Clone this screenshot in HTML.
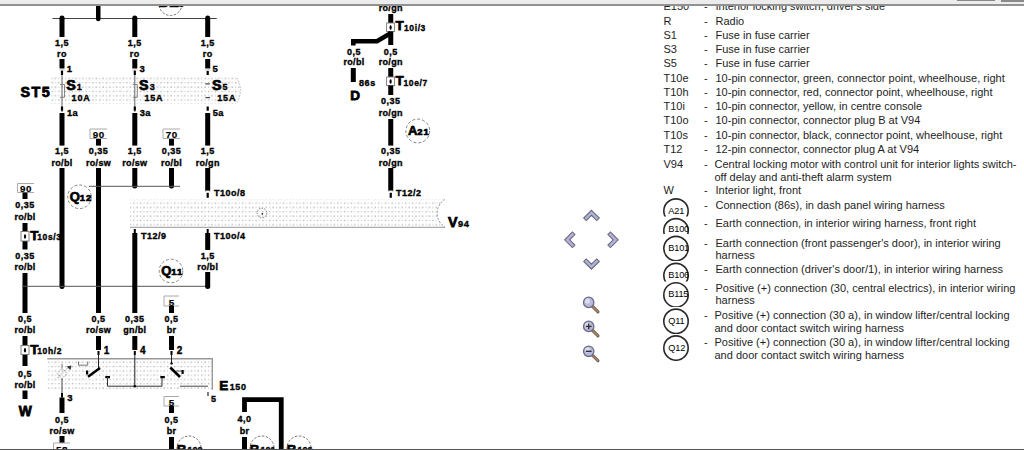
<!DOCTYPE html>
<html><head><meta charset="utf-8"><title>wiring</title>
<style>
html,body{margin:0;padding:0;background:#fff;width:1024px;height:450px;overflow:hidden;}
.lt{position:absolute;font-family:"Liberation Sans",sans-serif;font-size:11px;line-height:13px;color:#1e1e1e;white-space:pre;}
svg{position:absolute;left:0;top:0;}
svg text{font-family:"Liberation Sans",sans-serif;fill:#000;stroke:#000;stroke-width:0.35px;}
svg text.nc{stroke:none;}
#topbar{position:absolute;left:0;top:0;width:1024px;height:4px;background:#ececec;}
#topline{position:absolute;left:0;top:4px;width:1024px;height:1.6px;background:#929292;}
#botline{position:absolute;left:0;top:448.5px;width:1024px;height:1.5px;background:#555;}
</style></head><body>
<svg width="1024" height="450" viewBox="0 0 1024 450">
<defs>
<pattern id="dots" x="0" y="0" width="6.8" height="8.6" patternUnits="userSpaceOnUse">
<rect x="0.5" y="0.5" width="1.3" height="1.2" fill="#a0a0a0"/>
<rect x="3.9" y="0.5" width="1.2" height="1.2" fill="#c4c4c4"/>
<rect x="0.5" y="4.8" width="1.2" height="1.2" fill="#c8c8c8"/>
<rect x="3.9" y="4.8" width="1.3" height="1.2" fill="#a8a8a8"/>
<rect x="5.5" y="2.6" width="0.9" height="0.9" fill="#dddddd"/>
</pattern>
</defs>
<line x1="52.5" y1="18.5" x2="216.75" y2="18.5" stroke="#444" stroke-width="1"/>
<rect x="96.00" y="5.00" width="4.5" height="14.00" fill="#000"/>
<circle cx="98.25" cy="19.00" r="2.25" fill="#000"/>
<rect x="59.50" y="18.00" width="5" height="19.00" fill="#000"/>
<circle cx="62.00" cy="18.00" r="2.50" fill="#000"/>
<text x="62" y="45.5" font-size="9" font-weight="bold" text-anchor="middle" letter-spacing="0.5">1,5</text>
<text x="62" y="57" font-size="9" font-weight="bold" text-anchor="middle" letter-spacing="0.5">ro</text>
<rect x="59.50" y="59.00" width="5" height="9.50" fill="#000"/>
<rect x="132.30" y="18.00" width="5" height="19.00" fill="#000"/>
<circle cx="134.80" cy="18.00" r="2.50" fill="#000"/>
<text x="134.8" y="45.5" font-size="9" font-weight="bold" text-anchor="middle" letter-spacing="0.5">1,5</text>
<text x="134.8" y="57" font-size="9" font-weight="bold" text-anchor="middle" letter-spacing="0.5">ro</text>
<rect x="132.30" y="59.00" width="5" height="9.50" fill="#000"/>
<rect x="205.20" y="18.00" width="5" height="19.00" fill="#000"/>
<circle cx="207.70" cy="18.00" r="2.50" fill="#000"/>
<text x="207.7" y="45.5" font-size="9" font-weight="bold" text-anchor="middle" letter-spacing="0.5">1,5</text>
<text x="207.7" y="57" font-size="9" font-weight="bold" text-anchor="middle" letter-spacing="0.5">ro</text>
<rect x="205.20" y="59.00" width="5" height="9.50" fill="#000"/>
<text x="66.8" y="72.3" font-size="9.5" font-weight="bold" text-anchor="start" letter-spacing="0">1</text>
<text x="139.60000000000002" y="72.3" font-size="9.5" font-weight="bold" text-anchor="start" letter-spacing="0">3</text>
<text x="212.5" y="72.3" font-size="9.5" font-weight="bold" text-anchor="start" letter-spacing="0">5</text>
<path d="M50 77 H237 Q243 90 237 104 H50 Z" fill="url(#dots)"/>
<path d="M237 78 Q244 90 237 103" fill="none" stroke="#999" stroke-width="0.7" stroke-dasharray="1.5 1.5"/>
<line x1="62" y1="70" x2="62" y2="112" stroke="#666" stroke-width="1"/>
<rect x="60.9" y="70.8" width="2.2" height="4.2" fill="#000"/>
<path d="M59.2 70.5 Q62 67.8 64.8 70.5" fill="none" stroke="#bbb" stroke-width="0.7"/>
<rect x="60.9" y="106.5" width="2.2" height="4.2" fill="#000"/>
<line x1="134.8" y1="70" x2="134.8" y2="112" stroke="#666" stroke-width="1"/>
<rect x="133.70000000000002" y="70.8" width="2.2" height="4.2" fill="#000"/>
<path d="M132.0 70.5 Q134.8 67.8 137.60000000000002 70.5" fill="none" stroke="#bbb" stroke-width="0.7"/>
<rect x="133.70000000000002" y="106.5" width="2.2" height="4.2" fill="#000"/>
<rect x="206.6" y="70.8" width="2.2" height="4.2" fill="#000"/>
<path d="M204.89999999999998 70.5 Q207.7 67.8 210.5 70.5" fill="none" stroke="#bbb" stroke-width="0.7"/>
<rect x="206.6" y="106.5" width="2.2" height="4.2" fill="#000"/>
<path d="M60 84.5 H64.5 V97.3 H60" fill="none" stroke="#777" stroke-width="0.9"/>
<path d="M132.8 84.5 H137.3 V97.3 H132.8" fill="none" stroke="#777" stroke-width="0.9"/>
<rect x="205.3" y="83.3" width="4.5" height="1.2" fill="#444"/><rect x="205.5" y="97" width="4.5" height="1.2" fill="#444"/>
<text x="20.6" y="97.2" font-size="14.3" font-weight="bold" letter-spacing="1.4" style="stroke-width:0.8px">ST5</text>
<text x="66.2" y="90.4" font-size="14.3" font-weight="bold" letter-spacing="0.3" style="stroke-width:0.75px">S<tspan font-size="9" dx="0.8" dy="0" letter-spacing="0.6" style="stroke-width:0.35px">1</tspan></text>
<text x="71.6" y="100.9" font-size="9" font-weight="bold" text-anchor="start" letter-spacing="0.8">10A</text>
<text x="139.0" y="90.4" font-size="14.3" font-weight="bold" letter-spacing="0.3" style="stroke-width:0.75px">S<tspan font-size="9" dx="0.8" dy="0" letter-spacing="0.6" style="stroke-width:0.35px">3</tspan></text>
<text x="144.4" y="100.9" font-size="9" font-weight="bold" text-anchor="start" letter-spacing="0.8">15A</text>
<text x="211.89999999999998" y="90.4" font-size="14.3" font-weight="bold" letter-spacing="0.3" style="stroke-width:0.75px">S<tspan font-size="9" dx="0.8" dy="0" letter-spacing="0.6" style="stroke-width:0.35px">5</tspan></text>
<text x="217.29999999999998" y="100.9" font-size="9" font-weight="bold" text-anchor="start" letter-spacing="0.8">15A</text>
<circle cx="170.5" cy="4" r="11.5" fill="none" stroke="#555" stroke-width="0.8" stroke-dasharray="2.5 1.5"/>
<text x="158.5" y="7.3" font-size="13.5" font-weight="bold" style="stroke-width:0.7px">B<tspan font-size="9" dx="1" style="stroke-width:0.35px">115</tspan></text>
<text x="67" y="115.6" font-size="9.3" font-weight="bold" text-anchor="start" letter-spacing="0.4">1a</text>
<text x="139.8" y="115.6" font-size="9.3" font-weight="bold" text-anchor="start" letter-spacing="0.4">3a</text>
<text x="212.7" y="115.6" font-size="9.3" font-weight="bold" text-anchor="start" letter-spacing="0.4">5a</text>
<rect x="59.50" y="113.00" width="5" height="32.60" fill="#000"/>
<rect x="132.30" y="113.00" width="5" height="32.60" fill="#000"/>
<rect x="205.20" y="113.00" width="5" height="32.60" fill="#000"/>
<text x="62" y="154" font-size="9" font-weight="bold" text-anchor="middle" letter-spacing="0.5">1,5</text>
<text x="62" y="166" font-size="9" font-weight="bold" text-anchor="middle" letter-spacing="0.3">ro/bl</text>
<text x="134.8" y="154" font-size="9" font-weight="bold" text-anchor="middle" letter-spacing="0.5">1,5</text>
<text x="134.8" y="166" font-size="9" font-weight="bold" text-anchor="middle" letter-spacing="0.3">ro/sw</text>
<text x="207.7" y="154" font-size="9" font-weight="bold" text-anchor="middle" letter-spacing="0.5">1,5</text>
<text x="207.7" y="166" font-size="9" font-weight="bold" text-anchor="middle" letter-spacing="0.3">ro/gn</text>
<path d="M107 129 H90 V138.5 H107" fill="#fff" stroke="#aaa" stroke-width="1"/>
<text x="98.8" y="138.1" font-size="9.8" font-weight="bold" text-anchor="middle" letter-spacing="0.6" style="stroke-width:0.2px">90</text>
<rect x="96.00" y="139.00" width="5" height="6.60" fill="#000"/>
<text x="98.5" y="154" font-size="9" font-weight="bold" text-anchor="middle" letter-spacing="0.5">0,35</text>
<text x="98.5" y="166" font-size="9" font-weight="bold" text-anchor="middle" letter-spacing="0.3">ro/sw</text>
<path d="M180 129 H163 V138.5 H180" fill="#fff" stroke="#aaa" stroke-width="1"/>
<text x="171.8" y="138.1" font-size="9.8" font-weight="bold" text-anchor="middle" letter-spacing="0.6" style="stroke-width:0.2px">70</text>
<rect x="169.00" y="139.00" width="5" height="6.60" fill="#000"/>
<text x="171.5" y="154" font-size="9" font-weight="bold" text-anchor="middle" letter-spacing="0.5">0,35</text>
<text x="171.5" y="166" font-size="9" font-weight="bold" text-anchor="middle" letter-spacing="0.3">ro/bl</text>
<rect x="59.50" y="168.00" width="5" height="118.50" fill="#000"/>
<circle cx="62.00" cy="286.50" r="2.50" fill="#000"/>
<rect x="96.00" y="168.00" width="5" height="145.00" fill="#000"/>
<rect x="132.30" y="168.00" width="5" height="18.00" fill="#000"/>
<circle cx="134.80" cy="186.00" r="2.50" fill="#000"/>
<rect x="169.00" y="168.00" width="5" height="18.00" fill="#000"/>
<circle cx="171.50" cy="186.00" r="2.50" fill="#000"/>
<line x1="89" y1="186.3" x2="180" y2="186.3" stroke="#555" stroke-width="1"/>
<rect x="205.20" y="168.00" width="5" height="22.80" fill="#000"/>
<path d="M205.2 191.3 Q207.7 189.5 210.2 191.3" fill="none" stroke="#999" stroke-width="0.7"/>
<rect x="206.6" y="192.8" width="2.2" height="5" fill="#000"/>
<text x="214" y="196" font-size="9" font-weight="bold" text-anchor="start" letter-spacing="0.5">T10o/8</text>
<path d="M34.0 183.5 H17.5 V192.5 H34.0" fill="#fff" stroke="#aaa" stroke-width="1"/>
<text x="26.05" y="192.1" font-size="9.8" font-weight="bold" text-anchor="middle" letter-spacing="0.6" style="stroke-width:0.2px">90</text>
<rect x="22.50" y="192.50" width="5" height="6.50" fill="#000"/>
<text x="25" y="208" font-size="9" font-weight="bold" text-anchor="middle" letter-spacing="0.5">0,35</text>
<text x="25" y="220" font-size="9" font-weight="bold" text-anchor="middle" letter-spacing="0.3">ro/bl</text>
<rect x="22.50" y="223.00" width="5" height="26.50" fill="#000"/>
<rect x="21" y="231.5" width="8" height="9.5" fill="#fff" stroke="#777" stroke-width="0.9"/>
<ellipse cx="25.0" cy="236.55" rx="1.1" ry="2.3" fill="#000"/>
<text x="30.2" y="239.7" font-size="13.5" font-weight="bold" letter-spacing="0.3" style="stroke-width:0.75px">T<tspan font-size="8.5" dx="-1.5" dy="0" letter-spacing="0.6" style="stroke-width:0.35px">10s/3</tspan></text>
<text x="25" y="259" font-size="9" font-weight="bold" text-anchor="middle" letter-spacing="0.5">0,35</text>
<text x="25" y="270" font-size="9" font-weight="bold" text-anchor="middle" letter-spacing="0.3">ro/bl</text>
<rect x="22.50" y="273.00" width="5" height="40.00" fill="#000"/>
<line x1="22" y1="286.3" x2="210" y2="286.3" stroke="#555" stroke-width="1"/>
<circle cx="79.5" cy="196.8" r="11.8" fill="none" stroke="#666" stroke-width="0.8" stroke-dasharray="3 2"/>
<text x="69.7" y="201.0" font-size="13" font-weight="bold" style="stroke-width:0.7px">Q<tspan font-size="9.5" dx="-0.1" letter-spacing="0.9">12</tspan></text>
<circle cx="171" cy="271" r="11.8" fill="none" stroke="#666" stroke-width="0.8" stroke-dasharray="3 2"/>
<text x="161.2" y="275.2" font-size="13" font-weight="bold" style="stroke-width:0.7px">Q<tspan font-size="9.5" dx="-0.1" letter-spacing="0.9">11</tspan></text>
<path d="M130 199.5 H445 A16 16 0 0 0 445 227 H130 Z" fill="url(#dots)"/>
<line x1="130" y1="227.3" x2="445" y2="227.3" stroke="#999" stroke-width="1"/>
<path d="M445 199.5 A16 16 0 0 0 445 227" fill="none" stroke="#777" stroke-width="0.8" stroke-dasharray="2 1.5"/>
<circle cx="262" cy="213" r="4.8" fill="none" stroke="#666" stroke-width="0.8" stroke-dasharray="1.5 1.2"/><circle cx="262.3" cy="213.8" r="0.9" fill="#222"/>
<text x="448" y="227" font-size="14.3" font-weight="bold" letter-spacing="0.3" style="stroke-width:0.75px">V<tspan font-size="9.3" dx="0.2" dy="0" letter-spacing="0.6" style="stroke-width:0.35px">94</tspan></text>
<rect x="133.8" y="229" width="2" height="4.5" fill="#000"/>
<rect x="132.30" y="233.00" width="5" height="80.00" fill="#000"/>
<text x="141" y="238.5" font-size="9" font-weight="bold" text-anchor="start" letter-spacing="0.5">T12/9</text>
<rect x="206.7" y="229" width="2" height="4.5" fill="#000"/>
<rect x="205.20" y="233.00" width="5" height="17.00" fill="#000"/>
<text x="214" y="238.5" font-size="9" font-weight="bold" text-anchor="start" letter-spacing="0.5">T10o/4</text>
<text x="207.7" y="258.5" font-size="9" font-weight="bold" text-anchor="middle" letter-spacing="0.5">1,5</text>
<text x="207.7" y="270" font-size="9" font-weight="bold" text-anchor="middle" letter-spacing="0.3">ro/bl</text>
<rect x="205.20" y="272.00" width="5" height="14.50" fill="#000"/>
<circle cx="207.70" cy="286.50" r="2.50" fill="#000"/>
<path d="M179 296 H164 V306 H179" fill="#fff" stroke="#aaa" stroke-width="1"/>
<text x="171.8" y="305.6" font-size="9.8" font-weight="bold" text-anchor="middle" letter-spacing="0.6" style="stroke-width:0.2px">5</text>
<rect x="169.00" y="306.00" width="5" height="7.00" fill="#000"/>
<text x="25" y="322" font-size="9" font-weight="bold" text-anchor="middle" letter-spacing="0.5">0,5</text>
<text x="25" y="333" font-size="9" font-weight="bold" text-anchor="middle" letter-spacing="0.3">ro/bl</text>
<text x="98.5" y="322" font-size="9" font-weight="bold" text-anchor="middle" letter-spacing="0.5">0,5</text>
<text x="98.5" y="333" font-size="9" font-weight="bold" text-anchor="middle" letter-spacing="0.3">ro/sw</text>
<text x="134.8" y="322" font-size="9" font-weight="bold" text-anchor="middle" letter-spacing="0.5">0,35</text>
<text x="134.8" y="333" font-size="9" font-weight="bold" text-anchor="middle" letter-spacing="0.3">gn/bl</text>
<text x="171.5" y="322" font-size="9" font-weight="bold" text-anchor="middle" letter-spacing="0.5">0,5</text>
<text x="171.5" y="333" font-size="9" font-weight="bold" text-anchor="middle" letter-spacing="0.3">br</text>
<rect x="96.00" y="336.00" width="5" height="14.00" fill="#000"/>
<rect x="97.5" y="351" width="2" height="4" fill="#000"/>
<text x="103.7" y="354" font-size="10" font-weight="bold" text-anchor="start" letter-spacing="0">1</text>
<rect x="132.30" y="336.00" width="5" height="14.00" fill="#000"/>
<rect x="133.8" y="351" width="2" height="4" fill="#000"/>
<text x="140.0" y="354" font-size="10" font-weight="bold" text-anchor="start" letter-spacing="0">4</text>
<rect x="169.00" y="336.00" width="5" height="14.00" fill="#000"/>
<rect x="170.5" y="351" width="2" height="4" fill="#000"/>
<text x="176.7" y="354" font-size="10" font-weight="bold" text-anchor="start" letter-spacing="0">2</text>
<rect x="22.50" y="336.00" width="5" height="30.00" fill="#000"/>
<rect x="21" y="345.5" width="8" height="9" fill="#fff" stroke="#777" stroke-width="0.9"/>
<ellipse cx="25.0" cy="350.3" rx="1.1" ry="2.3" fill="#000"/>
<text x="30.2" y="353.8" font-size="13.5" font-weight="bold" letter-spacing="0.3" style="stroke-width:0.75px">T<tspan font-size="8.5" dx="-1.5" dy="0" letter-spacing="0.6" style="stroke-width:0.35px">10h/2</tspan></text>
<text x="25" y="377" font-size="9" font-weight="bold" text-anchor="middle" letter-spacing="0.5">0,5</text>
<text x="25" y="388" font-size="9" font-weight="bold" text-anchor="middle" letter-spacing="0.3">ro/bl</text>
<rect x="22.50" y="390.50" width="5" height="8.50" fill="#000"/>
<text x="18.8" y="415.6" font-size="13.8" font-weight="bold" style="stroke-width:0.8px">W</text>
<rect x="47.5" y="359" width="164.8" height="30.8" fill="url(#dots)"/>
<path d="M47.3 358.7 H212.3 V389.8" fill="none" stroke="#999" stroke-width="1.4"/>
<line x1="98.5" y1="354" x2="98.5" y2="368" stroke="#222" stroke-width="1"/>
<line x1="88" y1="376.7" x2="100" y2="368" stroke="#000" stroke-width="2.6"/>
<rect x="86" y="370.5" width="2.2" height="4" fill="#000"/>
<rect x="105.3" y="376" width="4.7" height="2.2" fill="#000"/>
<path d="M107.5 377 V386.2 H162 V377" fill="none" stroke="#333" stroke-width="1"/>
<rect x="160.3" y="376" width="4.5" height="2.2" fill="#000"/>
<line x1="134.8" y1="354" x2="134.8" y2="386.2" stroke="#222" stroke-width="1"/>
<circle cx="134.8" cy="386.2" r="1.3" fill="#000"/>
<line x1="171.5" y1="354" x2="171.5" y2="363" stroke="#222" stroke-width="1"/>
<circle cx="171.6" cy="363.4" r="1.2" fill="#000"/>
<line x1="170.3" y1="367.5" x2="180" y2="377" stroke="#000" stroke-width="2.6"/>
<line x1="176" y1="371" x2="183" y2="371" stroke="#333" stroke-width="0.8"/>
<rect x="181.5" y="370" width="2.2" height="4" fill="#000"/>
<line x1="180" y1="386.2" x2="208" y2="386.2" stroke="#444" stroke-width="1"/>
<path d="M78.5 361.5 V365.2 H87.7 V361.5" fill="none" stroke="#666" stroke-width="0.9"/>
<path d="M62 368.5 L67 373.5 L62 378.5 L57 373.5 Z" fill="none" stroke="#888" stroke-width="0.8" stroke-dasharray="1.6 1"/>
<line x1="62" y1="363.8" x2="62" y2="368.5" stroke="#777" stroke-width="1"/>
<line x1="62" y1="378.5" x2="62" y2="393" stroke="#444" stroke-width="1"/>
<line x1="57.5" y1="378" x2="68" y2="367.5" stroke="#777" stroke-width="0.8" stroke-dasharray="1.5 1"/>
<path d="M66.5 366.5 L71.5 365.5 L70.5 370 Z" fill="#333"/>
<rect x="61" y="393" width="2" height="4.5" fill="#000"/>
<text x="219.2" y="390" font-size="13.5" font-weight="bold" letter-spacing="0.3" style="stroke-width:0.75px">E<tspan font-size="9" dx="1.2" dy="0" letter-spacing="0.6" style="stroke-width:0.35px">150</tspan></text>
<rect x="207.5" y="392" width="1" height="4" fill="#000"/>
<text x="211" y="401.5" font-size="9" font-weight="bold" text-anchor="start" letter-spacing="0">5</text>
<text x="67.3" y="400.5" font-size="9.5" font-weight="bold" text-anchor="start" letter-spacing="0">3</text>
<rect x="59.50" y="397.50" width="5" height="15.50" fill="#000"/>
<text x="62" y="423" font-size="9" font-weight="bold" text-anchor="middle" letter-spacing="0.5">0,5</text>
<text x="62" y="434" font-size="9" font-weight="bold" text-anchor="middle" letter-spacing="0.3">ro/sw</text>
<rect x="59.50" y="436.00" width="5" height="7.00" fill="#000"/>
<path d="M70.0 443 H53.5 V453 H70.0" fill="#fff" stroke="#aaa" stroke-width="1"/>
<text x="62.05" y="452.6" font-size="9.8" font-weight="bold" text-anchor="middle" letter-spacing="0.6" style="stroke-width:0.2px">58</text>
<path d="M179 396.5 H164 V406.0 H179" fill="#fff" stroke="#aaa" stroke-width="1"/>
<text x="171.8" y="405.6" font-size="9.8" font-weight="bold" text-anchor="middle" letter-spacing="0.6" style="stroke-width:0.2px">5</text>
<rect x="169.00" y="406.00" width="5" height="7.00" fill="#000"/>
<text x="171.5" y="423" font-size="9" font-weight="bold" text-anchor="middle" letter-spacing="0.5">0,5</text>
<text x="171.5" y="434" font-size="9" font-weight="bold" text-anchor="middle" letter-spacing="0.3">br</text>
<rect x="169.00" y="437.00" width="5" height="13.00" fill="#000"/>
<path d="M244.5 412 V399.7 H281.25 V452" fill="none" stroke="#000" stroke-width="4.8"/>
<text x="244.5" y="422" font-size="9" font-weight="bold" text-anchor="middle" letter-spacing="0.5">4,0</text>
<text x="244.5" y="434" font-size="9" font-weight="bold" text-anchor="middle" letter-spacing="0.3">br</text>
<rect x="242.00" y="437.00" width="5" height="13.00" fill="#000"/>
<circle cx="189" cy="448" r="12" fill="none" stroke="#555" stroke-width="0.8" stroke-dasharray="2.5 1.5"/>
<text x="176.8" y="453.6" font-size="13.5" font-weight="bold" style="stroke-width:0.7px">B<tspan font-size="9" dx="1" dy="-0.3" style="stroke-width:0.4px">100</tspan></text>
<circle cx="262" cy="448" r="12" fill="none" stroke="#555" stroke-width="0.8" stroke-dasharray="2.5 1.5"/>
<text x="249.8" y="453.6" font-size="13.5" font-weight="bold" style="stroke-width:0.7px">B<tspan font-size="9" dx="1" dy="-0.3" style="stroke-width:0.4px">101</tspan></text>
<circle cx="299" cy="448" r="12" fill="none" stroke="#555" stroke-width="0.8" stroke-dasharray="2.5 1.5"/>
<text x="286.8" y="453.6" font-size="13.5" font-weight="bold" style="stroke-width:0.7px">B<tspan font-size="9" dx="1" dy="-0.3" style="stroke-width:0.4px">106</tspan></text>
<text x="390.75" y="11" font-size="9" font-weight="bold" text-anchor="middle" letter-spacing="0.3">ro/gn</text>
<rect x="388.25" y="14.00" width="5" height="9.00" fill="#000"/>
<rect x="386.6" y="23" width="8" height="8.5" fill="#fff" stroke="#777" stroke-width="0.9"/>
<ellipse cx="390.6" cy="27.55" rx="1.1" ry="2.3" fill="#000"/>
<text x="395.5" y="30.2" font-size="13.5" font-weight="bold" letter-spacing="0.3" style="stroke-width:0.75px">T<tspan font-size="8.5" dx="0" dy="0.8" letter-spacing="0.6" style="stroke-width:0.35px">10i/3</tspan></text>
<rect x="388.25" y="31.50" width="5" height="13.50" fill="#000"/>
<path d="M353.3 45.5 V41.2 H377 L391 33" fill="none" stroke="#000" stroke-width="4.6"/>
<text x="354" y="55" font-size="9" font-weight="bold" text-anchor="middle" letter-spacing="0.5">0,5</text>
<text x="354" y="65" font-size="9" font-weight="bold" text-anchor="middle" letter-spacing="0.3">ro/bl</text>
<text x="390.75" y="55" font-size="9" font-weight="bold" text-anchor="middle" letter-spacing="0.5">0,5</text>
<text x="390.75" y="65" font-size="9" font-weight="bold" text-anchor="middle" letter-spacing="0.3">ro/gn</text>
<rect x="350.80" y="68.00" width="5" height="14.00" fill="#000"/>
<text x="359" y="86" font-size="9" font-weight="bold" text-anchor="start" letter-spacing="0.6">86s</text>
<text x="350.2" y="100.2" font-size="13.5" font-weight="bold" style="stroke-width:0.8px">D</text>
<rect x="388.25" y="68.00" width="5" height="9.00" fill="#000"/>
<rect x="386.6" y="77" width="8" height="8.5" fill="#fff" stroke="#777" stroke-width="0.9"/>
<ellipse cx="390.6" cy="81.55" rx="1.1" ry="2.3" fill="#000"/>
<text x="395.5" y="85.2" font-size="13.5" font-weight="bold" letter-spacing="0.3" style="stroke-width:0.75px">T<tspan font-size="8.5" dx="-0.5" dy="0.8" letter-spacing="0.6" style="stroke-width:0.35px">10e/7</tspan></text>
<rect x="388.25" y="85.50" width="5" height="9.50" fill="#000"/>
<text x="390.75" y="104" font-size="9" font-weight="bold" text-anchor="middle" letter-spacing="0.5">0,35</text>
<text x="390.75" y="116" font-size="9" font-weight="bold" text-anchor="middle" letter-spacing="0.3">ro/gn</text>
<rect x="388.25" y="119.00" width="5" height="26.60" fill="#000"/>
<circle cx="417.8" cy="131" r="11.9" fill="none" stroke="#666" stroke-width="0.8" stroke-dasharray="3 2"/>
<text x="408.0" y="135.2" font-size="13" font-weight="bold" style="stroke-width:0.7px">A<tspan font-size="9.5" dx="-0.1" letter-spacing="0.9">21</tspan></text>
<text x="390.75" y="154" font-size="9" font-weight="bold" text-anchor="middle" letter-spacing="0.5">0,35</text>
<text x="390.75" y="166" font-size="9" font-weight="bold" text-anchor="middle" letter-spacing="0.3">ro/gn</text>
<rect x="388.25" y="168.00" width="5" height="22.80" fill="#000"/>
<path d="M388.25 191.3 Q390.75 189.5 393.25 191.3" fill="none" stroke="#999" stroke-width="0.7"/>
<rect x="389.65" y="192.8" width="2.2" height="5" fill="#000"/>
<text x="396" y="196" font-size="9" font-weight="bold" text-anchor="start" letter-spacing="0.5">T12/2</text>
<clipPath id="cA21"><rect x="650" y="196.25" width="40" height="20.349999999999994"/></clipPath>
<circle cx="676" cy="211.04999999999998" r="12.2" fill="none" stroke="#2a2a2a" stroke-width="1.6" clip-path="url(#cA21)"/>
<text x="668.3" y="213.5" class="nc" font-size="9.2" fill="#222" letter-spacing="-0.2">A21</text>
<clipPath id="cB100"><rect x="650" y="216" width="40" height="18"/></clipPath>
<circle cx="676" cy="230.79999999999998" r="12.2" fill="none" stroke="#2a2a2a" stroke-width="1.6" clip-path="url(#cB100)"/>
<text x="668.3" y="232.25" class="nc" font-size="9.2" fill="#222" letter-spacing="-0.2">B100</text>
<clipPath id="cB101"><rect x="650" y="233.75" width="40" height="27.25"/></clipPath>
<circle cx="676" cy="248.54999999999998" r="12.2" fill="none" stroke="#2a2a2a" stroke-width="1.6" clip-path="url(#cB101)"/>
<text x="668.3" y="250.75" class="nc" font-size="9.2" fill="#222" letter-spacing="-0.2">B101</text>
<clipPath id="cB106"><rect x="650" y="260.75" width="40" height="20.75"/></clipPath>
<circle cx="676" cy="275.55" r="12.2" fill="none" stroke="#2a2a2a" stroke-width="1.6" clip-path="url(#cB106)"/>
<text x="668.3" y="277.75" class="nc" font-size="9.2" fill="#222" letter-spacing="-0.2">B106</text>
<clipPath id="cB115"><rect x="650" y="280.1" width="40" height="26.899999999999977"/></clipPath>
<circle cx="676" cy="294.90000000000003" r="12.2" fill="none" stroke="#2a2a2a" stroke-width="1.6" clip-path="url(#cB115)"/>
<text x="668.3" y="296.5" class="nc" font-size="9.2" fill="#222" letter-spacing="-0.2">B115</text>
<clipPath id="cQ11"><rect x="650" y="306.5" width="40" height="27.5"/></clipPath>
<circle cx="676" cy="321.3" r="12.2" fill="none" stroke="#2a2a2a" stroke-width="1.6" clip-path="url(#cQ11)"/>
<text x="668.3" y="323.75" class="nc" font-size="9.2" fill="#222" letter-spacing="-0.2">Q11</text>
<clipPath id="cQ12"><rect x="650" y="333.25" width="40" height="27.75"/></clipPath>
<circle cx="676" cy="348.05" r="12.2" fill="none" stroke="#2a2a2a" stroke-width="1.6" clip-path="url(#cQ12)"/>
<text x="668.3" y="350.6" class="nc" font-size="9.2" fill="#222" letter-spacing="-0.2">Q12</text>
<path d="M591.5 210.3 L599.3 218.1 L596.8 220.6 L591.5 215.3 L586.2 220.6 L583.7 218.1 Z" fill="#b2b2d8" stroke="#66667a" stroke-width="1.05" stroke-linejoin="miter"/>
<path d="M591.5 269.2 L599.3 261.4 L596.8 258.9 L591.5 264.2 L586.2 258.9 L583.7 261.4 Z" fill="#b2b2d8" stroke="#66667a" stroke-width="1.05" stroke-linejoin="miter"/>
<path d="M564.6 239.8 L572.4 232 L574.9 234.5 L569.6 239.8 L574.9 245.1 L572.4 247.6 Z" fill="#b2b2d8" stroke="#66667a" stroke-width="1.05" stroke-linejoin="miter"/>
<path d="M618.2 239.8 L610.4 232 L607.9 234.5 L613.2 239.8 L607.9 245.1 L610.4 247.6 Z" fill="#b2b2d8" stroke="#66667a" stroke-width="1.05" stroke-linejoin="miter"/>
<line x1="592.5" y1="306.4" x2="598" y2="311.9" stroke="#5e5048" stroke-width="3" stroke-linecap="round"/><line x1="592.5" y1="306.4" x2="598" y2="311.9" stroke="#b08a68" stroke-width="1.5" stroke-linecap="round"/><circle cx="588.7" cy="302.4" r="5.2" fill="#b9b9da" stroke="#6a6a8a" stroke-width="1.3"/><circle cx="587.5" cy="301.09999999999997" r="2.6" fill="#dcdcf0"/>
<line x1="592.5" y1="330.4" x2="598" y2="335.9" stroke="#5e5048" stroke-width="3" stroke-linecap="round"/><line x1="592.5" y1="330.4" x2="598" y2="335.9" stroke="#b08a68" stroke-width="1.5" stroke-linecap="round"/><circle cx="588.7" cy="326.4" r="5.2" fill="#b9b9da" stroke="#6a6a8a" stroke-width="1.3"/><circle cx="587.5" cy="325.09999999999997" r="2.6" fill="#dcdcf0"/><line x1="585.8" y1="326.4" x2="591.6" y2="326.4" stroke="#333" stroke-width="1.4"/><line x1="588.7" y1="323.5" x2="588.7" y2="329.29999999999995" stroke="#333" stroke-width="1.4"/>
<line x1="592.5" y1="355.3" x2="598" y2="360.8" stroke="#5e5048" stroke-width="3" stroke-linecap="round"/><line x1="592.5" y1="355.3" x2="598" y2="360.8" stroke="#b08a68" stroke-width="1.5" stroke-linecap="round"/><circle cx="588.7" cy="351.3" r="5.2" fill="#b9b9da" stroke="#6a6a8a" stroke-width="1.3"/><circle cx="587.5" cy="350.0" r="2.6" fill="#dcdcf0"/><line x1="585.8" y1="351.3" x2="591.6" y2="351.3" stroke="#333" stroke-width="1.4"/>
</svg>
<div class="lt" style="left:663.5px;top:-0.10px">E150</div>
<div class="lt" style="left:704px;top:-0.10px">-</div>
<div class="lt" style="left:715.5px;top:-0.10px">Interior locking switch, driver's side</div>
<div class="lt" style="left:663.5px;top:14.75px">R</div>
<div class="lt" style="left:704px;top:14.75px">-</div>
<div class="lt" style="left:715.5px;top:14.75px">Radio</div>
<div class="lt" style="left:663.5px;top:28.75px">S1</div>
<div class="lt" style="left:704px;top:28.75px">-</div>
<div class="lt" style="left:715.5px;top:28.75px">Fuse in fuse carrier</div>
<div class="lt" style="left:663.5px;top:42.75px">S3</div>
<div class="lt" style="left:704px;top:42.75px">-</div>
<div class="lt" style="left:715.5px;top:42.75px">Fuse in fuse carrier</div>
<div class="lt" style="left:663.5px;top:57.30px">S5</div>
<div class="lt" style="left:704px;top:57.30px">-</div>
<div class="lt" style="left:715.5px;top:57.30px">Fuse in fuse carrier</div>
<div class="lt" style="left:663.5px;top:71.60px">T10e</div>
<div class="lt" style="left:704px;top:71.60px">-</div>
<div class="lt" style="left:715.5px;top:71.60px">10-pin connector, green, connector point, wheelhouse, right</div>
<div class="lt" style="left:663.5px;top:86.00px">T10h</div>
<div class="lt" style="left:704px;top:86.00px">-</div>
<div class="lt" style="left:715.5px;top:86.00px">10-pin connector, red, connector point, wheelhouse, right</div>
<div class="lt" style="left:663.5px;top:100.30px">T10i</div>
<div class="lt" style="left:704px;top:100.30px">-</div>
<div class="lt" style="left:715.5px;top:100.30px">10-pin connector, yellow, in centre console</div>
<div class="lt" style="left:663.5px;top:114.25px">T10o</div>
<div class="lt" style="left:704px;top:114.25px">-</div>
<div class="lt" style="left:715.5px;top:114.25px">10-pin connector, connector plug B at V94</div>
<div class="lt" style="left:663.5px;top:129.00px">T10s</div>
<div class="lt" style="left:704px;top:129.00px">-</div>
<div class="lt" style="left:715.5px;top:129.00px">10-pin connector, black, connector point, wheelhouse, right</div>
<div class="lt" style="left:663.5px;top:143.00px">T12</div>
<div class="lt" style="left:704px;top:143.00px">-</div>
<div class="lt" style="left:715.5px;top:143.00px">12-pin connector, connector plug A at V94</div>
<div class="lt" style="left:663.5px;top:157.60px">V94</div>
<div class="lt" style="left:704px;top:157.60px">-</div>
<div class="lt" style="left:714.5px;top:157.60px">Central locking motor with control unit for interior lights switch-</div>
<div class="lt" style="left:714.5px;top:170.50px">off delay and anti-theft alarm system</div>
<div class="lt" style="left:663.5px;top:184.25px">W</div>
<div class="lt" style="left:704px;top:184.25px">-</div>
<div class="lt" style="left:715.5px;top:184.25px">Interior light, front</div>
<div class="lt" style="left:704px;top:198.50px">-</div>
<div class="lt" style="left:715.5px;top:198.50px">Connection (86s), in dash panel wiring harness</div>
<div class="lt" style="left:704px;top:217.25px">-</div>
<div class="lt" style="left:715.5px;top:217.25px">Earth connection, in interior wiring harness, front right</div>
<div class="lt" style="left:704px;top:236.60px">-</div>
<div class="lt" style="left:715.5px;top:236.60px">Earth connection (front passenger's door), in interior wiring</div>
<div class="lt" style="left:715.5px;top:248.80px">harness</div>
<div class="lt" style="left:704px;top:263.00px">-</div>
<div class="lt" style="left:715.5px;top:263.00px">Earth connection (driver's door/1), in interior wiring harness</div>
<div class="lt" style="left:704px;top:281.75px">-</div>
<div class="lt" style="left:715.5px;top:281.75px">Positive (+) connection (30, central electrics), in interior wiring</div>
<div class="lt" style="left:715.5px;top:293.95px">harness</div>
<div class="lt" style="left:704px;top:308.50px">-</div>
<div class="lt" style="left:714.5px;top:308.50px">Positive (+) connection (30 a), in window lifter/central locking</div>
<div class="lt" style="left:714.5px;top:321.50px">and door contact switch wiring harness</div>
<div class="lt" style="left:704px;top:335.60px">-</div>
<div class="lt" style="left:714.5px;top:335.60px">Positive (+) connection (30 a), in window lifter/central locking</div>
<div class="lt" style="left:714.5px;top:348.60px">and door contact switch wiring harness</div>
<div id="topbar"></div><div id="topline"></div>
<div style="position:absolute;left:957px;top:0;width:38px;height:1.4px;background:#888"></div>
<div style="position:absolute;left:1001px;top:0;width:23px;height:1.5px;background:#8a8a8a"></div>
<div id="botline"></div>
</body></html>
